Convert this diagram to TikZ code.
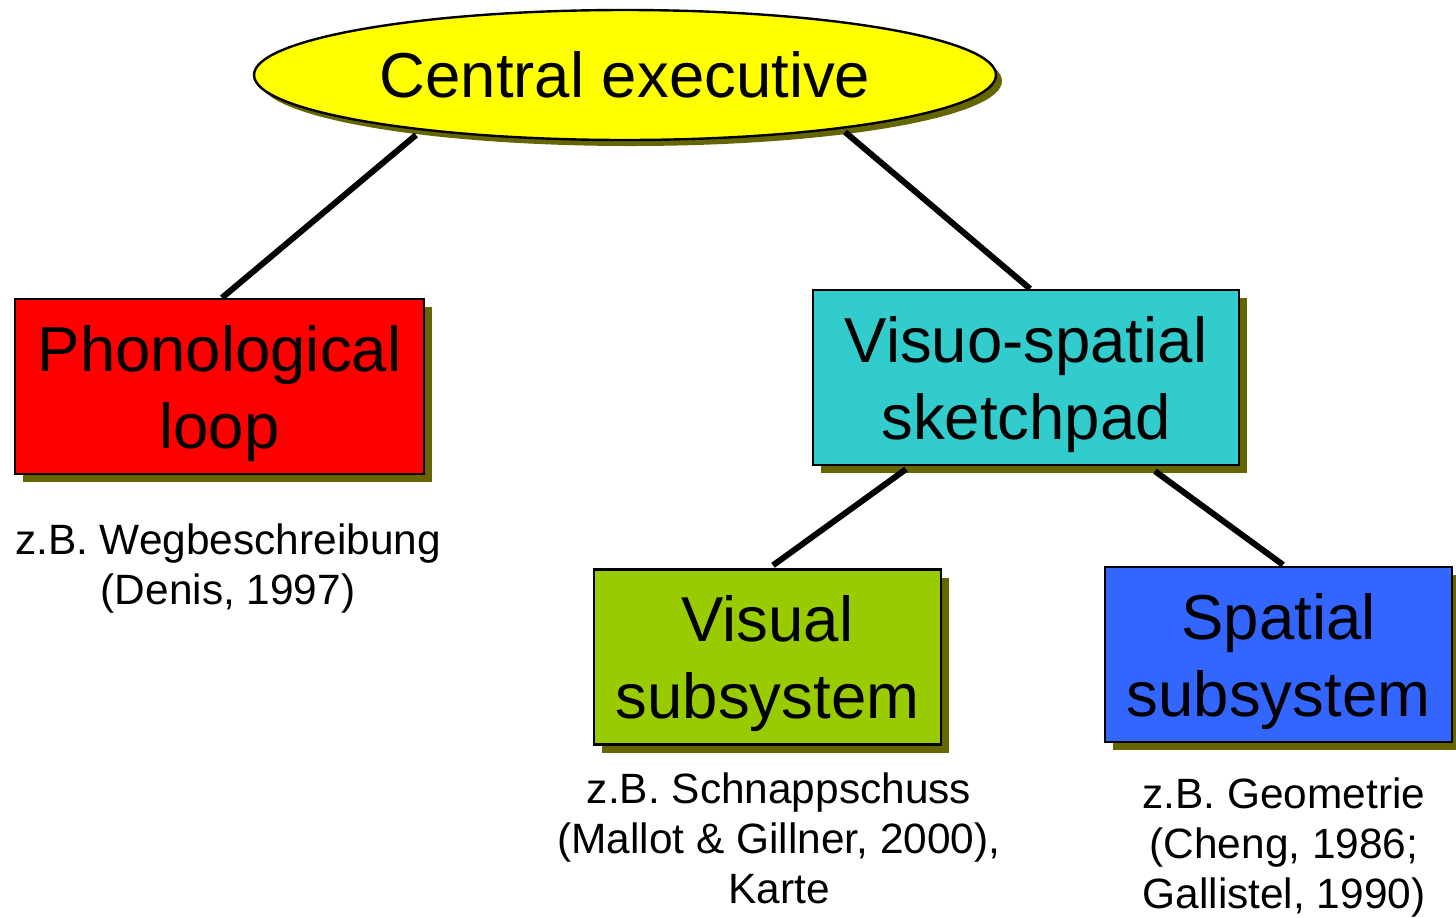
\documentclass[tikz,border=0pt]{standalone}
\usepackage{fontspec}
\setmainfont{Liberation Sans}
\usetikzlibrary{shapes.geometric,shadows,calc}
\definecolor{shadowolive}{HTML}{666600}
\definecolor{ceyellow}{HTML}{FFFF00}
\definecolor{plred}{HTML}{FF0000}
\definecolor{vsteal}{HTML}{33CCCC}
\definecolor{vgreen}{HTML}{99CC00}
\definecolor{sblue}{HTML}{3366FF}
\begin{document}
\begin{tikzpicture}[x=0.5pt,y=-0.5pt,
  bigtext/.style={font=\fontsize{31.75}{38.5}\selectfont},
  boxshadow/.style={drop shadow={shadow xshift=4pt,shadow yshift=-4pt,fill=shadowolive,opacity=1}},
  ellshadow/.style={drop shadow={shadow xshift=3pt,shadow yshift=-3pt,fill=shadowolive,opacity=1}},
  compbox/.style={draw=black,line width=1.2pt,minimum height=87.5pt,inner sep=0pt,boxshadow},
  boxtext/.style={label={[bigtext,align=center,inner sep=0pt,yshift=-3.5pt]center:#1}},
  note/.style={align=center,inner sep=0pt,font=\fontsize{21.2}{25}\selectfont},
  conn/.style={draw=black,line width=3pt}]
\useasboundingbox[fill=white] (0,0) rectangle (1456,917);

% central executive
\node[ellipse,draw=black,line width=1.2pt,fill=ceyellow,minimum width=371pt,
  minimum height=65pt,inner sep=0pt,bigtext,ellshadow] (ce) at (625,75) {Central executive};

% slave systems
\node[compbox,fill=plred,minimum width=204.5pt,boxtext={Phonological\\loop}] (pl) at (219.5,386.5) {};
\node[compbox,fill=vsteal,minimum width=213pt,boxtext={Visuo-spatial\\sketchpad}] (vs) at (1026,377.5) {};
\node[compbox,fill=vgreen,minimum width=173.5pt,boxtext={Visual\\subsystem}] (vis) at (767.5,657) {};
\node[compbox,fill=sblue,minimum width=173.5pt,boxtext={Spatial\\subsystem}] (sp) at (1278.5,654.5) {};

% connectors
\draw[conn] ($(ce.center)+(-209,60)$) -- ($(pl.north)+(2.5,0)$);
\draw[conn] ($(ce.center)+(220,57)$) -- ($(vs.north)+(4,0)$);
\draw[conn] ($(vs.south)+(-120,3)$) -- ($(vis.north)+(5.5,-3)$);
\draw[conn] ($(vs.south)+(129,5)$) -- ($(sp.north)+(4.5,-1)$);

% examples
\node[note] (n1) at (228,569) {z.B. Wegbeschreibung\\(Denis, 1997)};
\node[note] (n2) at (779,838) {z.B. Schnappschuss\\(Mallot \& Gillner, 2000),\\Karte};
\node[note] (n3) at (1284,848) {z.B. Geometrie\\(Cheng, 1986;\\Gallistel, 1990)};
\end{tikzpicture}
\end{document}
